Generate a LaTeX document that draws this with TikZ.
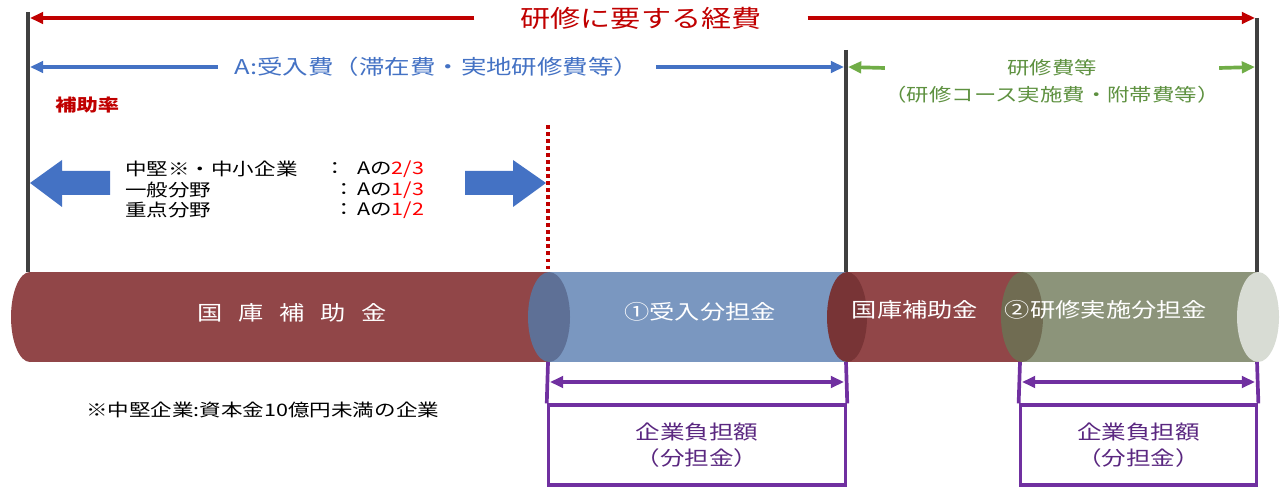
\documentclass[tikz,border=0pt]{standalone}
\usepackage{fontspec}
\setmainfont{Noto Sans CJK JP}[FakeStretch=1.25]
\usetikzlibrary{arrows.meta,positioning,calc}
\definecolor{myred}{RGB}{192,0,0}
\definecolor{myblue}{RGB}{68,114,196}
\definecolor{mygreen}{RGB}{112,173,71}
\definecolor{mygreentext}{RGB}{94,145,64}
\definecolor{mypurple}{RGB}{112,48,160}
\definecolor{barred}{RGB}{145,70,72}
\definecolor{barreddark}{RGB}{120,52,54}
\definecolor{barblue}{RGB}{122,151,192}
\definecolor{barbluedark}{RGB}{94,112,150}
\definecolor{barolive}{RGB}{140,148,122}
\definecolor{barolivedark}{RGB}{112,108,82}
\definecolor{barend}{RGB}{216,220,212}
\newdimen\pxunit \pxunit=0.5669pt

\begin{document}
\begin{tikzpicture}[x=0.02cm,y=-0.02cm,
    every node/.style={inner sep=0pt},
    rule/.style={line width=2pt,draw=black!75},
    span/.style={line width=2.1pt,-{Triangle[length=7.5pt,width=6.5pt]}},
    twospan/.style={line width=2.1pt,{Triangle[length=7.5pt,width=6.5pt]}-{Triangle[length=7.5pt,width=6.5pt]}},
    ratetext/.style={anchor=west,font=\fontsize{9.8}{11}\selectfont},
    bartext/.style={text=white,font=\fontsize{11.5}{13}\selectfont},
    costbox/.style={draw=mypurple,line width=2.1pt,minimum height=80\pxunit,
        align=center,text=mypurple!80!black,font=\fontsize{11.2}{14.5}\selectfont}
    ]
    \useasboundingbox (0,0) rectangle (1283,489);

    % frame lines
    \coordinate (L0) at (28,12);   \coordinate (L1) at (28,272);
    \coordinate (M0) at (846,50);  \coordinate (M1) at (846,272);
    \coordinate (R0) at (1257,18); \coordinate (R1) at (1257,272);
    \draw[rule] (L0) -- (L1);
    \draw[rule] (M0) -- (M1);
    \draw[rule] (R0) -- (R1);

    % total cost
    \node (title) at (641,18) [minimum width=334\pxunit,text=myred,
        font=\fontsize{13.7}{16}\selectfont] {研修に要する経費};
    \coordinate (redL) at (30,18);
    \coordinate (redR) at (1255,18);
    \draw[span,myred] (title.west) -- (redL);
    \draw[span,myred] (title.east) -- (redR);

    % A: acceptance cost
    \node (costA) at (437,67) [minimum width=440\pxunit,text=myblue,
        font=\fontsize{11.6}{13}\selectfont] {A:受入費（滞在費・実地研修費等）};
    \coordinate (blueL) at (30,67);
    \coordinate (blueR) at (844,67);
    \draw[span,myblue] (costA.west) -- (blueL);
    \draw[span,myblue] (costA.east) -- (blueR);

    % training cost
    \node (costB) at (1052,68) [minimum width=335\pxunit,text=mygreentext,
        font=\fontsize{10.2}{12}\selectfont] {研修費等};
    \node (costB2) at (1052,95) [text=mygreentext,
        font=\fontsize{10.2}{12}\selectfont] {（研修コース実施費・附帯費等）};
    \coordinate (greenL) at (848,67);
    \coordinate (greenR) at (1255,67);
    \draw[span,mygreen] (costB.west) -- (greenL);
    \draw[span,mygreen] (costB.east) -- (greenR);

    % subsidy rate
    \node (hojo) at (55,105) [anchor=west,text=myred,
        font=\fontsize{9.7}{11}\selectfont\bfseries] {補助率};
    \node[ratetext] (r1) at (125,169) {中堅※・中小企業};
    \node[ratetext] (r2) at (125,190) {一般分野};
    \node[ratetext] (r3) at (125,210) {重点分野};
    \node[ratetext] (c1) at (324,169) {：};
    \node[ratetext] (c2) at (333,190) {：};
    \node[ratetext] (c3) at (333,210) {：};
    \node[ratetext] (v1) at (357,169) {Aの\textcolor{red}{2/3}};
    \node[ratetext] (v2) at (357,190) {Aの\textcolor{red}{1/3}};
    \node[ratetext] (v3) at (357,210) {Aの\textcolor{red}{1/2}};
    \fill[myblue] (30,183) -- (62,160) -- (62,171) -- (110,171)
        -- (110,195) -- (62,195) -- (62,207) -- cycle;
    \fill[myblue] (546,183) -- (513,160) -- (513,171) -- (465,171)
        -- (465,195) -- (513,195) -- (513,207) -- cycle;
    \coordinate (D0) at (548,125);
    \coordinate (D1) at (548,272);
    \draw[myred,line width=2.2pt,dash pattern=on 2pt off 2pt] (D0) -- (D1);

    % the bar
    \fill[barred] (30,272) rectangle (548,362);
    \fill[barred] (30,317) ellipse [x radius=19,y radius=45];
    \fill[barblue] (548,272) rectangle (846,362);
    \fill[barbluedark] (549,317) ellipse [x radius=21,y radius=45];
    \fill[barred] (846,272) rectangle (1022,362);
    \fill[barreddark] (847,317) ellipse [x radius=20,y radius=45];
    \fill[barolive] (1022,272) rectangle (1258,362);
    \fill[barolivedark] (1022,317) ellipse [x radius=21,y radius=45];
    \fill[barend] (1258,317) ellipse [x radius=21,y radius=45];
    \node[bartext] (fund1) at (292,313) {国\hspace{9pt}庫\hspace{9pt}補\hspace{9pt}助\hspace{9pt}金};
    \node[bartext] (share1) at (700,312) {①受入分担金};
    \node[bartext] (fund2) at (915,310) {国庫補助金};
    \node[bartext] (share2) at (1106,310) {②研修実施分担金};

    % company share
    \node[costbox,minimum width=298\pxunit] (pay1) at (697,445) {企業負担額\\（分担金）};
    \node[costbox,minimum width=237\pxunit] (pay2) at (1138.5,445) {企業負担額\\（分担金）};
    \coordinate (p1l) at (548,362);  \coordinate (p1r) at (846,362);
    \coordinate (p2l) at (1020,362); \coordinate (p2r) at (1257,362);
    \draw[mypurple,line width=2.1pt] (pay1.north west) -- (p1l);
    \draw[mypurple,line width=2.1pt] (pay1.north east) -- (p1r);
    \draw[mypurple,line width=2.1pt] (pay2.north west) -- (p2l);
    \draw[mypurple,line width=2.1pt] (pay2.north east) -- (p2r);
    \coordinate (a1l) at (550,382);  \coordinate (a1r) at (844,382);
    \coordinate (a2l) at (1022,382); \coordinate (a2r) at (1255,382);
    \draw[twospan,mypurple] (a1l) -- (a1r);
    \draw[twospan,mypurple] (a2l) -- (a2r);

    % note
    \node (note) at (86,410) [anchor=west,font=\fontsize{9.8}{11}\selectfont]
        {※中堅企業:資本金10億円未満の企業};
\end{tikzpicture}
\end{document}
